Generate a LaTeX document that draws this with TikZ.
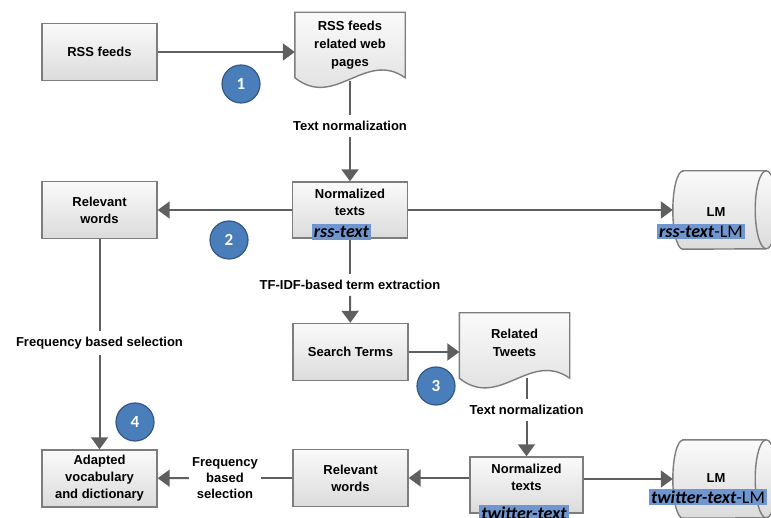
\documentclass[tikz,border=0pt]{standalone}
\usepackage{fontspec}
\setmainfont{Liberation Sans}
\newfontfamily\tagfont{Carlito}
\usetikzlibrary{arrows.meta}

\definecolor{linegray}{RGB}{95,95,95}
\definecolor{boxgray}{RGB}{125,125,125}
\definecolor{stepblue}{RGB}{74,126,187}
\definecolor{tagblue}{RGB}{112,150,208}

\begin{document}
\begin{tikzpicture}[x=1pt, y=1pt,
    procbox/.style={draw=boxgray, line width=1.4pt, top color=gray!4, bottom color=gray!28,
        minimum width=115pt, minimum height=57pt, align=center, inner sep=2pt,
        font=\bfseries\fontsize{13}{17}\selectfont},
    doctext/.style={minimum width=110pt, minimum height=65pt, align=center, inner sep=2pt,
        font=\bfseries\fontsize{13}{18}\selectfont},
    docline/.style={draw=boxgray, line width=1.4pt, top color=gray!4, bottom color=gray!28},
    lmspace/.style={minimum width=104pt, minimum height=78pt, inner sep=0pt},
    steplabel/.style={align=center, inner xsep=3pt, inner ysep=6pt,
        font=\bfseries\fontsize{13}{16}\selectfont},
    tag/.style={fill=tagblue, inner sep=2pt, font=\tagfont\fontsize{18}{19}\selectfont},
    stepmark/.style={circle, fill=stepblue, draw=stepblue!70!black, line width=1.2pt,
        minimum size=38pt, inner sep=0pt, text=white,
        font=\tagfont\bfseries\fontsize{17}{18}\selectfont},
    flow/.style={draw=linegray, line width=2pt},
    flowarrow/.style={flow, -{Triangle[length=12pt, width=17pt]}}
]
    \clip (0,0) rectangle (771,517);

    % first row: crawling the feeds
    \node[procbox] (feeds) at (99.5,465) {RSS feeds};
    \node[doctext] (web) at (350,472) {};
    \draw[docline] (web.north west) -- (web.north east) -- (web.south east)
        .. controls +(-40,28) and +(40,-32) .. (web.south west) -- cycle;
    \node[doctext] at (web) {RSS feeds\\related web\\pages};
    \draw[flowarrow] (feeds.east) -- (feeds.east -| web.west);

    % second row: normalized rss text
    \node[procbox, minimum height=56pt] (norm1) at (350,307) {Normalized\\texts\\[-2pt]\phantom{x}};
    \node[procbox] (relw1) at (99.5,307) {Relevant\\words};
    \node[lmspace] (lm1) at (725,307) {};
    \draw[docline] ([xshift=10pt]lm1.north west) -- ([xshift=-11pt]lm1.north east)
        arc[start angle=90, end angle=-90, x radius=11pt, y radius=39pt]
        -- ([xshift=10pt]lm1.south west)
        arc[start angle=270, end angle=90, x radius=10pt, y radius=39pt] -- cycle;
    \draw[draw=boxgray, line width=1.4pt] ([xshift=-11pt]lm1.north east)
        arc[start angle=90, end angle=270, x radius=11pt, y radius=39pt];
    \node[font=\bfseries\fontsize{13}{17}\selectfont] (lm1text) at (716,305) {LM};

    \node[steplabel] (tn1) at (350,391) {Text normalization};
    \draw[flow] ([yshift=-3pt]web.south) -- (tn1);
    \draw[flowarrow] (tn1) -- (norm1);
    \draw[flowarrow] (norm1.west) -- (relw1.east);
    \draw[flowarrow] (norm1.east) -- (lm1.west);

    % search terms and tweets
    \node[procbox] (search) at (350.5,165) {Search Terms};
    \node[doctext] (tweets) at (514.5,171.5) {};
    \draw[docline] (tweets.north west) -- (tweets.north east) -- (tweets.south east)
        .. controls +(-40,28) and +(40,-32) .. (tweets.south west) -- cycle;
    \node[doctext] at ([yshift=3pt]tweets) {Related\\Tweets};

    \node[steplabel] (tfidf) at (350,232) {TF-IDF-based term extraction};
    \draw[flow] (norm1.south) -- (tfidf);
    \draw[flowarrow] (tfidf) -- (search);
    \draw[flowarrow] (search.east) -- (search.east -| tweets.west);

    % last row: twitter text and the adapted vocabulary
    \node[procbox, minimum width=113pt, minimum height=56pt] (norm2) at (526.5,32) {Normalized\\texts\\[-2pt]\phantom{x}};
    \node[procbox] (relw2) at (350.5,39) {Relevant\\words};
    \node[procbox] (adapt) at (99.5,38.5) {Adapted\\vocabulary\\and dictionary};
    \node[lmspace] (lm2) at (725,38) {};
    \draw[docline] ([xshift=10pt]lm2.north west) -- ([xshift=-11pt]lm2.north east)
        arc[start angle=90, end angle=-90, x radius=11pt, y radius=39pt]
        -- ([xshift=10pt]lm2.south west)
        arc[start angle=270, end angle=90, x radius=10pt, y radius=39pt] -- cycle;
    \draw[draw=boxgray, line width=1.4pt] ([xshift=-11pt]lm2.north east)
        arc[start angle=90, end angle=270, x radius=11pt, y radius=39pt];
    \node[font=\bfseries\fontsize{13}{17}\selectfont] (lm2text) at (716,39) {LM};

    \node[steplabel] (tn2) at (526.5,107) {Text normalization};
    \draw[flow] (tweets.south -| norm2.north) -- (tn2);
    \draw[flowarrow] (tn2) -- (norm2);
    \draw[flowarrow] (norm2.west |- relw2) -- (relw2.east);
    \draw[flowarrow] (norm2.east |- lm2) -- (lm2.west);

    \node[steplabel] (freq2) at (225,39) {Frequency\\based\\selection};
    \draw[flow] (relw2) -- (freq2);
    \draw[flowarrow] (freq2) -- (adapt);

    \node[steplabel] (freq1) at (99.5,174) {Frequency based selection};
    \draw[flow] (relw1) -- (freq1);
    \draw[flowarrow] (freq1) -- (adapt);

    % highlighted names
    \node[tag] (rsstag) at (341.5,285) {\textbf{\textit{rss-text}}};
    \node[tag] (rsslm) at (701,285.5) {\textbf{\textit{rss-text}}-LM};
    \node[tag] (twtag) at (524,4) {\textbf{\textit{twitter-text}}};
    \node[tag] (twlm) at (708,20) {\textbf{\textit{twitter-text}}-LM};

    % step numbers
    \node[stepmark] (m1) at (241,433) {1};
    \node[stepmark] (m2) at (229,277) {2};
    \node[stepmark] (m3) at (436,131) {3};
    \node[stepmark] (m4) at (135,95) {4};
\end{tikzpicture}
\end{document}
